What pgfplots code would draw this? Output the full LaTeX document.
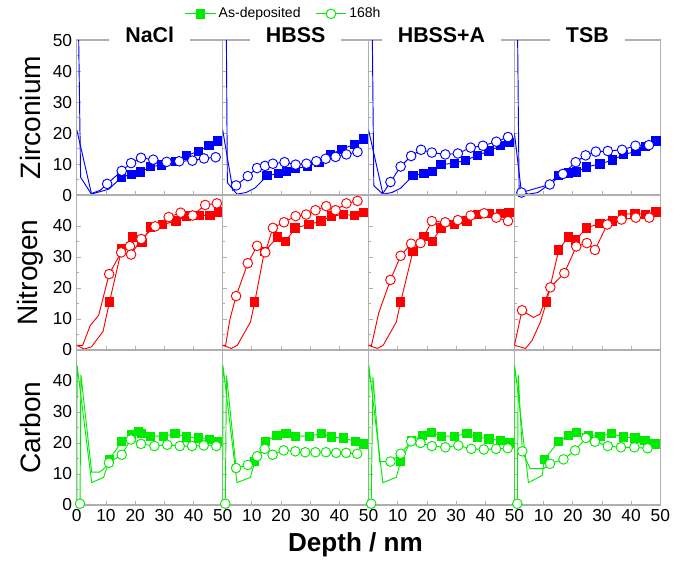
\documentclass[border=0pt]{standalone}
\usepackage{pgfplots}
\pgfplotsset{compat=1.18}
\usepgfplotslibrary{groupplots}
\usepackage{fontspec}
\setmainfont{Liberation Sans}
\definecolor{zr}{RGB}{0,0,255}
\definecolor{ni}{RGB}{255,0,0}
\definecolor{ca}{RGB}{0,235,0}
\definecolor{frame}{RGB}{175,175,175}

\begin{document}
\begin{tikzpicture}
\begin{groupplot}[
  group style={group size=4 by 3, horizontal sep=0pt, vertical sep=0pt,
    xticklabels at=edge bottom, yticklabels at=edge left},
  scale only axis, width=109.2pt, height=116pt,
  xmin=0, xmax=50, ymin=0, ymax=50,
  xtick={10,20,...,50}, ytick={0,10,...,40},
  minor y tick num=1,
  tick align=inside, tick pos=left,
  major tick length=3pt, minor tick length=2pt,
  tick style={frame, line width=0.6pt},
  axis line style={frame, line width=0.9pt},
  ticklabel style={font=\fontsize{13}{13}\selectfont},
  /pgf/number format/assume math mode=true,
  title style={at={(0.5,1)}, anchor=base, yshift=-8pt, fill=white,
    inner xsep=12pt, inner ysep=1pt, font=\bfseries\fontsize{16}{16}\selectfont},
  ylabel style={at={(rel axis cs:-0.32,0.5)}, anchor=center,
    font=\fontsize{21}{21}\selectfont},
  ad/.style={line width=0.7pt, mark=square*, mark size=3.1pt},
  hh/.style={line width=0.7pt, mark=*, mark size=3.6pt, mark options={fill=white}},
]
% ---------------- Zirconium ----------------
\nextgroupplot[title={NaCl}, ylabel={Zirconium}, ytick={0,10,...,50}, xtick={0,10,...,50},
  legend style={at={(1.42,1.169)}, anchor=center, draw=none, fill=none,
    legend columns=2, font=\fontsize{10.5}{10.5}\selectfont,
    /tikz/every even column/.append style={column sep=9pt}},
  legend image code/.code={\draw[mark repeat=2,mark phase=2]
    plot coordinates {(0cm,0cm) (0.4cm,0cm) (0.8cm,0cm)};}]
\addlegendimage{ca, ad}
\addlegendimage{ca, hh}
\legend{As-deposited,168h}
\addplot[zr, ad, mark phase=4] coordinates {(0.5,60) (1.3,5.7) (5,0.3) (11,1.9) (15.4,5.8) (18.8,6.7) (21.7,7.4) (25.3,9.1) (29.1,9.7) (33.7,10.8) (37.7,12.7) (41.6,14.1) (45.3,16) (48.4,17.4)};
\addplot[zr, hh, mark phase=4] coordinates {(0,21) (5,0.5) (8,1.5) (10.4,3.6) (15.4,7.8) (18.6,10.3) (22,12) (26.2,11.4) (30.8,10.7) (35.1,10.9) (39.6,11.1) (43.6,11.8) (47.6,12.2)};

\nextgroupplot[title={HBSS}]
\addplot[zr, ad, mark phase=5] coordinates {(1.2,60) (1.6,4) (4.9,0.3) (8,0.8) (11,2.2) (15.2,6.2) (19,7) (21.8,7.6) (25,8.5) (29,9.3) (33,10.5) (36.9,13) (40.9,14.8) (45.2,16.4) (48.3,18.1)};
\addplot[zr, hh, mark phase=3] coordinates {(0,21) (3.5,1.5) (4.6,3.1) (8.6,6.1) (11.8,8.7) (14.5,9.4) (17.2,10.1) (21.2,10.6) (25,9.8) (28.7,10.1) (32.1,10.9) (35.3,11.7) (38.7,12.3) (42.4,13.1) (46.2,13.9)};

\nextgroupplot[title={HBSS+A}]
\addplot[zr, ad, mark phase=5] coordinates {(1.2,60) (1.8,3) (4.9,0.3) (8,0.8) (11,2.2) (15.2,6.2) (19,7) (21.8,7.6) (24.8,9.8) (29.4,10.3) (33.3,11.2) (37.3,12.8) (41.3,14.2) (45.3,15.9) (48.2,17)};
\addplot[zr, hh, mark phase=3] coordinates {(0,21) (4.9,0.5) (7.5,4.2) (11,9.2) (14.6,12.6) (18,14.6) (21.7,13.7) (26.3,13.1) (30.6,13.4) (35,15.3) (39.2,15.9) (43.8,17.2) (47.8,18.7)};

\nextgroupplot[title={TSB}]
\addplot[zr, ad, mark phase=5] coordinates {(1,60) (1.6,1) (4.9,0.3) (8,0.8) (10.7,2.6) (15,6.4) (18.4,7.1) (21.2,7.4) (24.7,9.1) (29.3,10) (33.6,11.3) (37.3,13) (41.7,14.1) (44.8,15.7) (48.5,17.4)};
\addplot[zr, hh, mark phase=2] coordinates {(0,20) (2.4,0.8) (12.1,3.4) (16.6,6.8) (21,10.6) (24.4,12.8) (27.9,14) (32,14.2) (36.9,14.6) (41.5,15.9) (46.1,16.1)};

% ---------------- Nitrogen ----------------
\nextgroupplot[ylabel={Nitrogen}, xtick={0,10,...,50}]
\addplot[ni, ad, mark phase=5] coordinates {(0,1.5) (2.5,0.3) (5,1) (9,6) (11.2,15.5) (15.4,32.6) (19.2,36.5) (22.3,34.7) (25.3,39.7) (29.4,40.5) (34,41.6) (37.7,43.2) (42,43.5) (45.6,43.4) (48.5,44.5)};
\addplot[ni, hh, mark phase=5] coordinates {(0,1.5) (2,1.5) (4.6,7.9) (7.5,11.2) (11.1,24.5) (15.2,31.5) (18.2,33.5) (18.6,30.8) (22.1,35.8) (26.9,39.9) (31.5,42.9) (35.6,44.3) (39.7,43.4) (44,46.8) (48,47.3)};

\nextgroupplot
\addplot[ni, ad, mark phase=5] coordinates {(0,1.5) (3,0.5) (5,1.5) (9.5,9) (11,15.5) (14.3,31.8) (18.9,36.5) (21.6,35) (24.8,39.4) (29.6,40.5) (33.7,41.6) (37.4,43.2) (41.4,43.7) (45.2,43.4) (48.3,44.3)};
\addplot[ni, hh, mark phase=4] coordinates {(0,1.5) (1,1.5) (2.5,10) (4.6,17.4) (8.6,28) (11.8,33.6) (14.6,31.5) (17.2,39.4) (21,41.2) (25,43.2) (28.6,43.7) (31.8,45.1) (35.5,46.4) (38.7,45.1) (42.4,47.3) (46.2,48.1)};

\nextgroupplot
\addplot[ni, ad, mark phase=5] coordinates {(0,1.5) (3,0.5) (5,1.5) (9.5,9) (11,15.5) (15.2,31.8) (19,36.7) (21.8,35) (24.8,39.4) (29.4,40.5) (33.7,41.6) (37.3,43.7) (41.3,44) (45.3,44) (48.1,44.3)};
\addplot[ni, hh, mark phase=4] coordinates {(0,1.5) (1,1.5) (3.5,12) (7.5,22.6) (11,30.4) (14.6,34.3) (17.8,34.5) (21.7,41.6) (26.3,41.2) (30.6,41.9) (35,43.4) (39.6,44.1) (43.8,42.7) (47.8,41.6)};

\nextgroupplot
\addplot[ni, ad, mark phase=5] coordinates {(0,1.5) (3.8,0.5) (6,3) (8.9,9) (11,15.5) (15.2,32.3) (18.4,36.5) (21,35.5) (24.7,39.4) (29.3,40.8) (33.6,41.6) (37,43.7) (41.3,44.1) (44.8,43.8) (48.5,44.5)};
\addplot[ni, hh, mark indices={2,5,6,7,8,9,10,11,12,13}] coordinates {(0,1.5) (2.6,12.8) (6.5,10.5) (8.7,11.5) (12.3,20.2) (17.1,24.8) (21.2,33.4) (24.8,34.5) (27.6,32.3) (31.8,40.5) (36.7,42.1) (41.6,42.7) (46.2,42.7)};

% ---------------- Carbon ----------------
\nextgroupplot[ylabel={Carbon}, xtick={0,10,...,50}]
\addplot[ca, ad, mark phase=5] coordinates {(0,0.5) (0.1,45) (5.1,7.2) (9.2,8.9) (11.2,14.7) (15.4,20.5) (18.8,22.6) (21.1,23.7) (22.2,23) (25.3,22.2) (29.6,22.2) (33.6,23) (37.7,21.9) (41.6,21.6) (45.5,21.1) (48.5,20.5)};
\addplot[ca, hh, mark indices={1,6,7,8,9,10,11,12,13,14,15}] coordinates {(1.1,0.4) (1.4,42) (5.1,10.6) (7.8,10.6) (9.2,11.6) (11,13.6) (15.4,16.2) (18.5,21.1) (22,19.7) (26.6,19) (31,19.4) (35.3,19) (39.5,19) (43.5,19.2) (47.8,19)};

\nextgroupplot[xlabel={Depth / nm},
  xlabel style={at={(rel axis cs:0.91,-0.26)}, anchor=center,
    font=\bfseries\fontsize{19.5}{19.5}\selectfont}]
\addplot[ca, ad, mark phase=5] coordinates {(0,0.5) (0.1,45) (4.9,7.2) (9.5,8.9) (11,14) (14.6,20.5) (18.6,22.4) (21.7,23) (24.9,22.2) (29.7,22.2) (33.8,23) (37.4,21.9) (41.4,21.6) (45.4,20.5) (48.3,19.7)};
\addplot[ca, hh, mark indices={1,3,4,5,6,7,8,9,10,11,12,13,14,15}] coordinates {(0.9,0.4) (1.3,41.8) (4.6,11.9) (8.6,12.9) (11.8,15.7) (14.4,18.1) (17.1,16.2) (20.9,17.6) (24.9,17.3) (28.3,17) (31.8,17) (35.4,17) (38.9,16.8) (42.3,16.8) (46.1,16.5)};

\nextgroupplot
\addplot[ca, ad, mark phase=5] coordinates {(0,0.5) (0.1,45) (4.9,7.2) (9.5,8.9) (11,14) (14.6,20.8) (18.6,22.4) (21.5,23.3) (24.9,22.2) (29.4,22.2) (33.7,23) (37.3,21.9) (41.3,21.3) (45.3,20.8) (48.1,20)};
\addplot[ca, hh, mark indices={1,4,5,6,7,8,9,10,11,12,13,14}] coordinates {(0.9,0.4) (1.5,41.2) (3.8,14) (7.5,14) (11,16.5) (14.6,20.5) (17.8,20) (21.7,19) (26.3,18.6) (30.8,19.2) (35.2,18.1) (39.5,17.9) (43.7,18.1) (47.7,18.3)};

\nextgroupplot
\addplot[ca, ad, mark phase=5] coordinates {(0,0.5) (0.1,45) (4.8,7.2) (9.5,9.5) (10.3,14.7) (15.1,20.5) (18.5,22.4) (21.3,23.5) (25.3,22.4) (29.3,22.2) (33.3,23) (37.3,21.9) (41.3,21.6) (44.7,20.8) (48.2,19.7)};
\addplot[ca, hh, mark indices={1,3,6,7,8,9,10,11,12,13,14}] coordinates {(1,0.4) (1.3,42) (2.7,17.3) (5.4,11.7) (10,11.7) (12.2,13.3) (16.8,14.7) (20.8,17.6) (24.5,21.6) (27.6,20.4) (32,19) (36.5,18.6) (41.1,18.6) (45.6,18.3)};
\end{groupplot}
\path ([xshift=-57.5pt,yshift=30pt]group c1r1.north west) rectangle ([xshift=15.5pt,yshift=-43.1pt]group c4r3.south east);
\end{tikzpicture}
\end{document}
